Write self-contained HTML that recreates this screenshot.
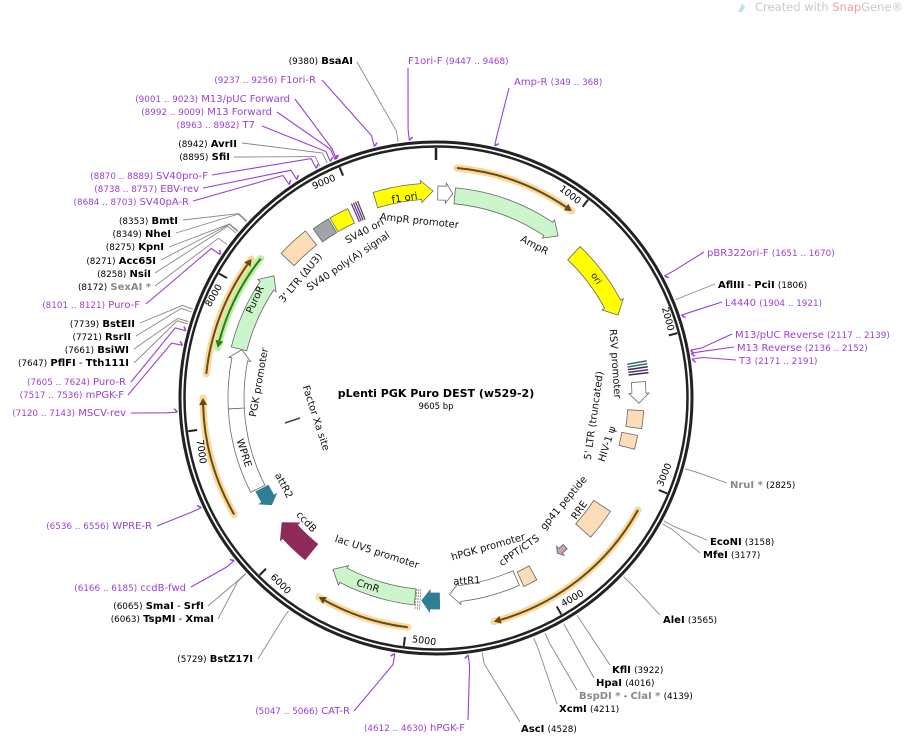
<!DOCTYPE html>
<html><head><meta charset="utf-8"><style>
html,body{margin:0;padding:0;background:#fff;width:905px;height:736px;overflow:hidden}
svg{display:block;font-family:"DejaVu Sans","Liberation Sans",sans-serif}
.e{font-size:10px;fill:#000}
.p{font-size:10px;fill:#9b3fd6}
.g{font-size:10px;fill:#8a8a8a}
.n{font-size:8.8px;font-weight:normal}
.b{font-weight:bold}
.f{font-size:10px;fill:#111}
</style></head><body>
<svg id="s" width="905" height="736" viewBox="0 0 905 736" xmlns="http://www.w3.org/2000/svg">
<g id="lines"></g>
<g id="feat"></g>
<circle cx="436" cy="398" r="256" fill="none" stroke="#222" stroke-width="3"/>
<circle cx="436" cy="398" r="251.5" fill="none" stroke="#222" stroke-width="2.5"/>
<g id="ticks"></g>

<text x="755" y="11" font-size="11.5" fill="#c8c8c8">Created with <tspan fill="#f0a0a0">Snap</tspan>Gene®</text>
<path d="M738 12 L742 3 L745 7 L742 12Z" fill="#bfe3ee"/>

<g text-anchor="end">
<text class="e" x="353" y="64"><tspan class="n">(9380)</tspan>  <tspan class="b">BsaAI</tspan></text>
<text class="p" x="316" y="83"><tspan class="n">(9237 .. 9256)</tspan>  F1ori-R</text>
<text class="p" x="290" y="102"><tspan class="n">(9001 .. 9023)</tspan>  M13/pUC Forward</text>
<text class="p" x="272" y="115"><tspan class="n">(8992 .. 9009)</tspan>  M13 Forward</text>
<text class="p" x="255" y="128"><tspan class="n">(8963 .. 8982)</tspan>  T7</text>
<text class="e" x="237" y="147"><tspan class="n">(8942)</tspan>  <tspan class="b">AvrII</tspan></text>
<text class="e" x="230" y="160"><tspan class="n">(8895)</tspan>  <tspan class="b">SfiI</tspan></text>
<text class="p" x="208" y="179"><tspan class="n">(8870 .. 8889)</tspan>  SV40pro-F</text>
<text class="p" x="199" y="192"><tspan class="n">(8738 .. 8757)</tspan>  EBV-rev</text>
<text class="p" x="189" y="205"><tspan class="n">(8684 .. 8703)</tspan>  SV40pA-R</text>
<text class="e" x="178" y="224"><tspan class="n">(8353)</tspan>  <tspan class="b">BmtI</tspan></text>
<text class="e" x="171" y="237"><tspan class="n">(8349)</tspan>  <tspan class="b">NheI</tspan></text>
<text class="e" x="164" y="250"><tspan class="n">(8275)</tspan>  <tspan class="b">KpnI</tspan></text>
<text class="e" x="156" y="264"><tspan class="n">(8271)</tspan>  <tspan class="b">Acc65I</tspan></text>
<text class="e" x="151" y="277"><tspan class="n">(8258)</tspan>  <tspan class="b">NsiI</tspan></text>
<text class="g" x="151" y="290"><tspan class="n" fill="#000">(8172)</tspan>  <tspan class="b">SexAI *</tspan></text>
<text class="p" x="140" y="308"><tspan class="n">(8101 .. 8121)</tspan>  Puro-F</text>
<text class="e" x="135" y="327"><tspan class="n">(7739)</tspan>  <tspan class="b">BstEII</tspan></text>
<text class="e" x="131" y="340"><tspan class="n">(7721)</tspan>  <tspan class="b">RsrII</tspan></text>
<text class="e" x="129" y="353"><tspan class="n">(7661)</tspan>  <tspan class="b">BsiWI</tspan></text>
<text class="e" x="129" y="366"><tspan class="n">(7647)</tspan>  <tspan class="b">PflFI</tspan>  - <tspan class="b">Tth111I</tspan></text>
<text class="p" x="126" y="385"><tspan class="n">(7605 .. 7624)</tspan>  Puro-R</text>
<text class="p" x="124" y="398"><tspan class="n">(7517 .. 7536)</tspan>  mPGK-F</text>
<text class="p" x="126" y="416"><tspan class="n">(7120 .. 7143)</tspan>  MSCV-rev</text>
<text class="p" x="152" y="529"><tspan class="n">(6536 .. 6556)</tspan>  WPRE-R</text>
<text class="p" x="186" y="591"><tspan class="n">(6166 .. 6185)</tspan>  ccdB-fwd</text>
<text class="e" x="204" y="609"><tspan class="n">(6065)</tspan>  <tspan class="b">SmaI</tspan>  - <tspan class="b">SrfI</tspan></text>
<text class="e" x="214" y="622"><tspan class="n">(6063)</tspan>  <tspan class="b">TspMI</tspan>  - <tspan class="b">XmaI</tspan></text>
<text class="e" x="253" y="662"><tspan class="n">(5729)</tspan>  <tspan class="b">BstZ17I</tspan></text>
<text class="p" x="350" y="714"><tspan class="n">(5047 .. 5066)</tspan>  CAT-R</text>
<text class="p" x="465" y="731"><tspan class="n">(4612 .. 4630)</tspan>  hPGK-F</text>
</g>
<text class="p" x="408" y="64">F1ori-F   <tspan class="n">(9447 .. 9468)</tspan></text>
<text class="p" x="514" y="85">Amp-R   <tspan class="n">(349 .. 368)</tspan></text>
<text class="p" x="707" y="256">pBR322ori-F   <tspan class="n">(1651 .. 1670)</tspan></text>
<text class="e" x="718" y="288"><tspan class="b">AflIII</tspan>  - <tspan class="b">PciI</tspan>   <tspan class="n">(1806)</tspan></text>
<text class="p" x="725" y="306">L4440   <tspan class="n">(1904 .. 1921)</tspan></text>
<text class="p" x="735" y="338">M13/pUC Reverse   <tspan class="n">(2117 .. 2139)</tspan></text>
<text class="p" x="737" y="351">M13 Reverse   <tspan class="n">(2136 .. 2152)</tspan></text>
<text class="p" x="739" y="364">T3   <tspan class="n">(2171 .. 2191)</tspan></text>
<text class="g" x="730" y="488"><tspan class="b">NruI *</tspan>   <tspan class="n" fill="#000">(2825)</tspan></text>
<text class="e" x="710" y="545"><tspan class="b">EcoNI</tspan>   <tspan class="n">(3158)</tspan></text>
<text class="e" x="703" y="558"><tspan class="b">MfeI</tspan>   <tspan class="n">(3177)</tspan></text>
<text class="e" x="663" y="623"><tspan class="b">AleI</tspan>   <tspan class="n">(3565)</tspan></text>
<text class="e" x="612" y="673"><tspan class="b">KflI</tspan>   <tspan class="n">(3922)</tspan></text>
<text class="e" x="596" y="686"><tspan class="b">HpaI</tspan>   <tspan class="n">(4016)</tspan></text>
<text class="g" x="579" y="699"><tspan class="b">BspDI *</tspan><tspan fill="#000"> - </tspan><tspan class="b">ClaI *</tspan>  <tspan class="n" fill="#000">(4139)</tspan></text>
<text class="e" x="559" y="712"><tspan class="b">XcmI</tspan>   <tspan class="n">(4211)</tspan></text>
<text class="e" x="521" y="732"><tspan class="b">AscI</tspan>   <tspan class="n">(4528)</tspan></text>

<text x="436" y="397" text-anchor="middle" font-size="11" font-weight="bold">pLenti PGK Puro DEST (w529-2)</text>
<text x="436" y="409" text-anchor="middle" font-size="8.5">9605 bp</text>

<g class="f" text-anchor="middle">
<text transform="translate(405,201) rotate(-9)" font-size="10">f1 ori</text>
<text transform="translate(419,224) rotate(6)">AmpR promoter</text>
<text transform="translate(533,248) rotate(28)">AmpR</text>
<text transform="translate(594,280) rotate(55)" font-size="9">ori</text>
<text transform="translate(612,364) rotate(86)">RSV promoter</text>
<text transform="translate(597,416) rotate(-82)">5' LTR (truncated)</text>
<text transform="translate(610,445) rotate(-72)">HIV-1 ψ</text>
<text transform="translate(582,512) rotate(-55)">RRE</text>
<text transform="translate(566,505) rotate(-50)">gp41 peptide</text>
<text transform="translate(521,553) rotate(-35)">cPPT/CTS</text>
<text transform="translate(489,550) rotate(-16)">hPGK promoter</text>
<text transform="translate(467,584) rotate(-3)">attR1</text>
<text transform="translate(376,555) rotate(18)">lac UV5 promoter</text>
<text transform="translate(367,589) rotate(18)">CmR</text>
<text transform="translate(304,524) rotate(47)">ccdB</text>
<text transform="translate(281,487) rotate(62)">attR2</text>
<text transform="translate(241,454) rotate(72)">WPRE</text>
<text transform="translate(262,383) rotate(-80)">PGK promoter</text>
<text transform="translate(258,301) rotate(-65)">PuroR</text>
<text transform="translate(303,280) rotate(-50)">3' LTR (ΔU3)</text>
<text transform="translate(350,264) rotate(-34)">SV40 poly(A) signal</text>
<text transform="translate(366,234) rotate(-28)">SV40 ori</text>
<text transform="translate(313,419) rotate(72)">Factor Xa site</text>
</g>
<line x1="285" y1="423" x2="300" y2="418" stroke="#444" stroke-width="1.5"/>
<g id="tlab" font-size="9.5" text-anchor="middle"></g>
</svg>
<script>
const NS="http://www.w3.org/2000/svg",cx=436,cy=398,T=9605;
function pt(d,r){const a=d*Math.PI/180;return [cx+r*Math.sin(a),cy-r*Math.cos(a)];}
function bd(bp){return bp/T*360;}
function el(g,tag,at){const e=document.createElementNS(NS,tag);for(const k in at)e.setAttribute(k,at[k]);document.getElementById(g).appendChild(e);return e;}
function f(p){return p[0].toFixed(1)+" "+p[1].toFixed(1);}
function arrow(a1,a2,r,w,dir,fill,stroke,head){
  head=head===undefined?10:head;
  const hd=head/r*180/Math.PI;
  let ro=r+w/2,ri=r-w/2,ex=head?3:0,d;
  if(dir>=0){const ah=a2-hd;
    d="M"+f(pt(a1,ro))+" A"+ro+" "+ro+" 0 0 1 "+f(pt(ah,ro))+" L"+f(pt(ah,ro+ex))+" L"+f(pt(a2,r))+" L"+f(pt(ah,ri-ex))+" L"+f(pt(ah,ri))+" A"+ri+" "+ri+" 0 0 0 "+f(pt(a1,ri))+"Z";
  }else{const ah=a1+hd;
    d="M"+f(pt(a2,ro))+" A"+ro+" "+ro+" 0 0 0 "+f(pt(ah,ro))+" L"+f(pt(ah,ro+ex))+" L"+f(pt(a1,r))+" L"+f(pt(ah,ri-ex))+" L"+f(pt(ah,ri))+" A"+ri+" "+ri+" 0 0 1 "+f(pt(a2,ri))+"Z";}
  el("feat","path",{d:d,fill:fill,stroke:stroke,"stroke-width":0.8});
}
function line(a1,a2,r,col,glow,dir){
  const d="M"+f(pt(a1,r))+" A"+r+" "+r+" 0 0 1 "+f(pt(a2,r));
  el("feat","path",{d:d,fill:"none",stroke:glow,"stroke-width":7,"stroke-linecap":"round",opacity:0.8});
  const hd=7/r*180/Math.PI;
  const b1=dir>0?a1:a1+hd,b2=dir>0?a2-hd:a2;
  el("feat","path",{d:"M"+f(pt(b1,r))+" A"+r+" "+r+" 0 0 1 "+f(pt(b2,r)),fill:"none",stroke:col,"stroke-width":2});
  const tip=dir>0?a2:a1,bs=dir>0?a2-hd:a1+hd;
  el("feat","path",{d:"M"+f(pt(tip,r))+" L"+f(pt(bs,r+4))+" L"+f(pt(bs,r-4))+"Z",fill:col});
}
const OR="#6b4a12",OG="#f7cf82";
line(5.2,36,231,OR,OG,1);
line(119,165.5,231,OR,OG,1);
line(187,210.5,231,OR,OG,1);
line(240,270,233,OR,OG,1);
line(276,307,231,OR,OG,1);
line(283,308.5,224,"#2f7a1e","#a8ee8a",-1);
const W="#fff",S="#666",G="#ccf5cc",P="#fddcb8",Y="#ffff00",TE="#2e7f94";
arrow(0.5,4.7,205,14,1,W,S,7);
arrow(5.3,37,203,16,1,G,S,12);
arrow(-17,-0.8,207,16,1,Y,S,12);
arrow(43.6,65.5,200,18,1,Y,S,12);
arrow(85.5,91.5,203,14,1,W,S,10);
arrow(93.5,98.5,200,16,1,P,S,0);
arrow(100.5,104.5,197,16,1,P,S,0);
arrow(123,132,198,20,1,P,S,0);
arrow(139,142,197,6,1,"#c9a0b8",S,4);
arrow(151,155,200,16,1,P,S,0);
arrow(156,176,197,16,1,W,S,10);
arrow(179,184,203,16,1,TE,TE,8);
arrow(186,211,200,16,1,G,S,12);
arrow(219,231,198,20,1,"#8e2a5a","#8e2a5a",12);
arrow(237,242.5,196,14,-1,TE,TE,7);
arrow(243,267,200,16,1,W,S,0);
arrow(267,284,200,16,1,W,S,10);
arrow(284,307,203,16,1,G,S,12);
arrow(313,322,203,18,1,P,S,0);
arrow(324,329,201,16,1,"#a0a4a8",S,0);
arrow(329.5,335,201,16,1,Y,S,0);
for(let i=0;i<4;i++){const a=336.5+i*0.6;const p1=pt(a,192),p2=pt(a,212);el("feat","line",{x1:p1[0],y1:p1[1],x2:p2[0],y2:p2[1],stroke:i%2?"#555":"#7a2aa8","stroke-width":1.3});}
for(let i=0;i<5;i++){const a=80+i*0.8;const p1=pt(a,194),p2=pt(a,214);el("feat","line",{x1:p1[0],y1:p1[1],x2:p2[0],y2:p2[1],stroke:i<2?"#2e6f74":(i==3?"#6a2a9a":"#333"),"stroke-width":1.5});}
for(let i=0;i<3;i++){const a=184.5+i*0.6;const p1=pt(a,192),p2=pt(a,212);el("feat","line",{x1:p1[0],y1:p1[1],x2:p2[0],y2:p2[1],stroke:"#777","stroke-width":0.8,"stroke-dasharray":"2 1"});}
for(let k=0;k<10;k++){const a=bd(k*1000);const p1=pt(a,250),p2=pt(a,k?241:238);el("ticks","line",{x1:p1[0],y1:p1[1],x2:p2[0],y2:p2[1],stroke:"#222","stroke-width":k?2:2.5});
 if(k){let rot=a<90?a:(a<270?a-180:a-360);const c=pt(a-4.5,243);const t=el("tlab","text",{transform:"translate("+c[0].toFixed(1)+","+(c[1]+3).toFixed(1)+") rotate("+rot.toFixed(1)+")"});t.textContent=k*1000;}}
const PU="#9b3fd6",GR="#888";
const L=[[9380,357,62,GR],[9447,408,68,PU],[349,509,88,PU],[9237,322,80,PU],[9001,295,99,PU],[8992,277,112,PU],[8963,262,126,PU],[8942,242,143,GR],[8895,234,157,GR],[8870,212,175,PU],[8738,203,188,PU],[8684,193,201,PU],[8353,183,220,GR],[8349,176,233,GR],[8275,169,247,GR],[8271,161,260,GR],[8258,155,273,GR],[8172,155,286,GR],[8101,146,304,PU],[7739,140,323,GR],[7721,136,336,GR],[7661,134,349,GR],[7647,134,363,GR],[7605,131,382,PU],[7517,128,395,PU],[7120,131,413,PU],[6536,157,526,PU],[6166,191,587,PU],[6065,208,606,GR],[6063,218,619,GR],[5729,258,659,GR],[5047,354,711,PU],[4612,468,720,PU],[4528,520,722,GR],[4211,557,704,GR],[4139,577,690,GR],[4016,594,678,GR],[3922,610,665,GR],[3565,660,615,GR],[3177,700,553,GR],[3158,707,540,GR],[2825,727,483,GR],[2171,736,360,PU],[2136,734,347,PU],[2117,732,334,PU],[1904,722,302,PU],[1806,715,284,GR],[1651,704,252,PU]];
for(const [bp,x,y,c] of L){const a=bd(bp);const p1=pt(a,259),p2=pt(a,270);
 el("lines","polyline",{points:f(p1)+" "+f(p2)+" "+x+" "+y,fill:"none",stroke:c,"stroke-width":c==PU?1.1:0.9});
 if(c==PU){const q=pt(a+0.8,262);el("lines","line",{x1:p1[0],y1:p1[1],x2:q[0],y2:q[1],stroke:c,"stroke-width":1.5});}}
</script>
</body></html>
